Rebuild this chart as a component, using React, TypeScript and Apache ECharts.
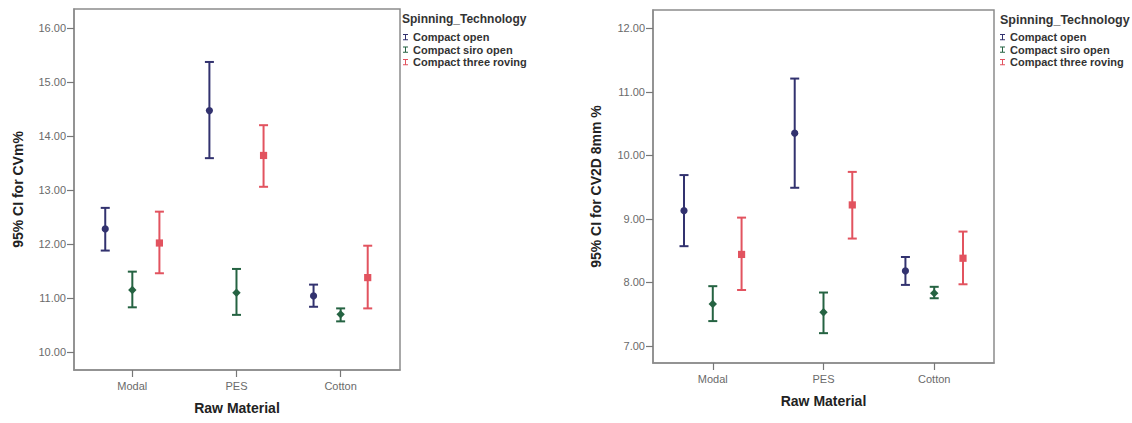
import React, { useEffect, useRef } from "react";
import * as echarts from "echarts";

// ---------- data ----------
const materials = ["Modal", "PES", "Cotton"];
const technologies = ["Compact open", "Compact siro open", "Compact three roving"];

// Chart 1: 95% CI for CVm%
const cvmTicks = [10, 11, 12, 13, 14, 15, 16];
const cvmOpenMean = [12.28, 14.47, 11.04];
const cvmOpenLower = [11.88, 13.59, 10.84];
const cvmOpenUpper = [12.67, 15.37, 11.25];
const cvmSiroMean = [11.15, 11.1, 10.7];
const cvmSiroLower = [10.83, 10.69, 10.57];
const cvmSiroUpper = [11.49, 11.54, 10.81];
const cvmThreeMean = [12.02, 13.64, 11.38];
const cvmThreeLower = [11.46, 13.06, 10.81];
const cvmThreeUpper = [12.6, 14.2, 11.97];

// Chart 2: 95% CI for CV2D 8mm %
const cv2dTicks = [7, 8, 9, 10, 11, 12];
const cv2dOpenMean = [9.13, 10.35, 8.18];
const cv2dOpenLower = [8.57, 9.49, 7.96];
const cv2dOpenUpper = [9.69, 11.21, 8.4];
const cv2dSiroMean = [7.66, 7.53, 7.83];
const cv2dSiroLower = [7.39, 7.2, 7.75];
const cv2dSiroUpper = [7.94, 7.84, 7.93];
const cv2dThreeMean = [8.44, 9.22, 8.38];
const cv2dThreeLower = [7.88, 8.69, 7.97];
const cv2dThreeUpper = [9.02, 9.74, 8.8];

// ---------- styling ----------
const colors = ["#32326f", "#256342", "#e2535f"];
const shapes = ["circle", "diamond", "square"];
const offsets = [-0.26, 0, 0.26];
const FONT = "Liberation Sans, Arial, sans-serif";
const frameColor = "#8c8c8c";

function rows(lower: number[], upper: number[], mean: number[]) {
  return materials.map((_, i) => [i + 1, lower[i], upper[i], mean[i]]);
}

function makeRender(offset: number, shape: string) {
  return (params: any, api: any) => {
    const x = api.value(0) + offset;
    const lo = api.coord([x, api.value(1)]);
    const hi = api.coord([x, api.value(2)]);
    const m = api.coord([x, api.value(3)]);
    const color = api.visual("color");
    const cap = 4.5;
    const ls = { stroke: color, lineWidth: 2 };
    const children: any[] = [
      { type: "line", shape: { x1: lo[0], y1: lo[1], x2: hi[0], y2: hi[1] }, style: ls },
      { type: "line", shape: { x1: lo[0] - cap, y1: lo[1], x2: lo[0] + cap, y2: lo[1] }, style: ls },
      { type: "line", shape: { x1: hi[0] - cap, y1: hi[1], x2: hi[0] + cap, y2: hi[1] }, style: ls },
    ];
    if (shape === "circle") {
      children.push({ type: "circle", shape: { cx: m[0], cy: m[1], r: 3.6 }, style: { fill: color } });
    } else if (shape === "diamond") {
      const r = 4.2;
      children.push({
        type: "polygon",
        shape: { points: [[m[0], m[1] - r], [m[0] + r, m[1]], [m[0], m[1] + r], [m[0] - r, m[1]]] },
        style: { fill: color },
      });
    } else {
      const s = 3.6;
      children.push({ type: "rect", shape: { x: m[0] - s, y: m[1] - s, width: 2 * s, height: 2 * s }, style: { fill: color } });
    }
    return { type: "group", children };
  };
}

function xAxisFor(gridIndex: number, min: number, max: number, gap: number, margin: number) {
  return {
    type: "value",
    gridIndex,
    min,
    max,
    name: "Raw Material",
    nameLocation: "middle",
    nameGap: gap,
    nameTextStyle: { fontFamily: FONT, fontSize: 14, fontWeight: "bold", color: "#222" },
    axisLine: { show: true, lineStyle: { color: frameColor, width: 1.5 } },
    axisTick: { show: true, length: 7, customValues: [1, 2, 3], lineStyle: { color: "#777", width: 1.2 } },
    axisLabel: {
      customValues: [1, 2, 3],
      margin,
      fontFamily: FONT,
      fontSize: 11,
      color: "#6a6a6a",
      formatter: (v: number) => materials[Math.round(v) - 1] ?? "",
    },
    splitLine: { show: false },
  };
}

function yAxisFor(gridIndex: number, min: number, max: number, ticks: number[], name: string, gap: number) {
  return {
    type: "value",
    gridIndex,
    min,
    max,
    name,
    nameLocation: "middle",
    nameRotate: 90,
    nameGap: gap,
    nameTextStyle: { fontFamily: FONT, fontSize: 14, fontWeight: "bold", color: "#222" },
    axisLine: { show: true, lineStyle: { color: frameColor, width: 1.5 } },
    axisTick: { show: true, length: 7, customValues: ticks, lineStyle: { color: "#777", width: 1.2 } },
    axisLabel: {
      customValues: ticks,
      margin: 8,
      fontFamily: FONT,
      fontSize: 11,
      color: "#6a6a6a",
      formatter: (v: number) => v.toFixed(2),
    },
    splitLine: { show: false },
  };
}

const legendIcon =
  "path://M0,0L8,0L8,1.6L4.8,1.6L4.8,8.4L8,8.4L8,10L0,10L0,8.4L3.2,8.4L3.2,1.6L0,1.6Z";

function legendFor(left: number, top: number) {
  return {
    orient: "vertical",
    left,
    top,
    icon: legendIcon,
    itemWidth: 5,
    itemHeight: 8,
    itemGap: 0.5,
    padding: 0,
    selectedMode: false,
    data: technologies,
    textStyle: { fontFamily: FONT, fontSize: 11, fontWeight: "bold", color: "#333", padding: [0, 0, 0, 0], lineHeight: 12 },
  };
}

export default function App() {
  const ref = useRef<HTMLDivElement>(null);
  useEffect(() => {
    if (!ref.current) return;
    const chart = echarts.init(ref.current, undefined, { renderer: "svg" });

    const chart1 = [
      rows(cvmOpenLower, cvmOpenUpper, cvmOpenMean),
      rows(cvmSiroLower, cvmSiroUpper, cvmSiroMean),
      rows(cvmThreeLower, cvmThreeUpper, cvmThreeMean),
    ];
    const chart2 = [
      rows(cv2dOpenLower, cv2dOpenUpper, cv2dOpenMean),
      rows(cv2dSiroLower, cv2dSiroUpper, cv2dSiroMean),
      rows(cv2dThreeLower, cv2dThreeUpper, cv2dThreeMean),
    ];

    const series: any[] = [];
    [chart1, chart2].forEach((sets, gi) => {
      sets.forEach((data, ti) => {
        series.push({
          type: "custom",
          name: technologies[ti],
          xAxisIndex: gi,
          yAxisIndex: gi,
          itemStyle: { color: colors[ti] },
          encode: { x: 0, y: [1, 2, 3] },
          renderItem: makeRender(offsets[ti], shapes[ti]),
          data,
        });
      });
    });

    chart.setOption({
      animation: false,
      backgroundColor: "#ffffff",
      title: [
        { text: "Spinning_Technology", left: 402, top: 13, padding: 0, textStyle: { fontFamily: FONT, fontSize: 12, fontWeight: "bold", color: "#333" } },
        { text: "Spinning_Technology", left: 1000, top: 13, padding: 0, textStyle: { fontFamily: FONT, fontSize: 12.5, fontWeight: "bold", color: "#333" } },
      ],
      legend: [legendFor(403, 31), legendFor(1000, 31)],
      grid: [
        { left: 74, top: 9, width: 326, height: 361, show: true, borderColor: frameColor, borderWidth: 1.5, backgroundColor: "transparent" },
        { left: 653, top: 10, width: 341, height: 353, show: true, borderColor: frameColor, borderWidth: 1.5, backgroundColor: "transparent" },
      ],
      xAxis: [xAxisFor(0, 0.44, 3.57, 31, 10), xAxisFor(1, 0.46, 3.54, 31, 10)],
      yAxis: [
        yAxisFor(0, 9.67, 16.35, cvmTicks, "95% CI for CVm%", 49),
        yAxisFor(1, 6.73, 12.29, cv2dTicks, "95% CI for CV2D 8mm %", 50),
      ],
      series,
    });
    return () => chart.dispose();
  }, []);
  return <div ref={ref} style={{ position: "fixed", left: 0, top: 0, width: 1132, height: 423 }} />;
}
